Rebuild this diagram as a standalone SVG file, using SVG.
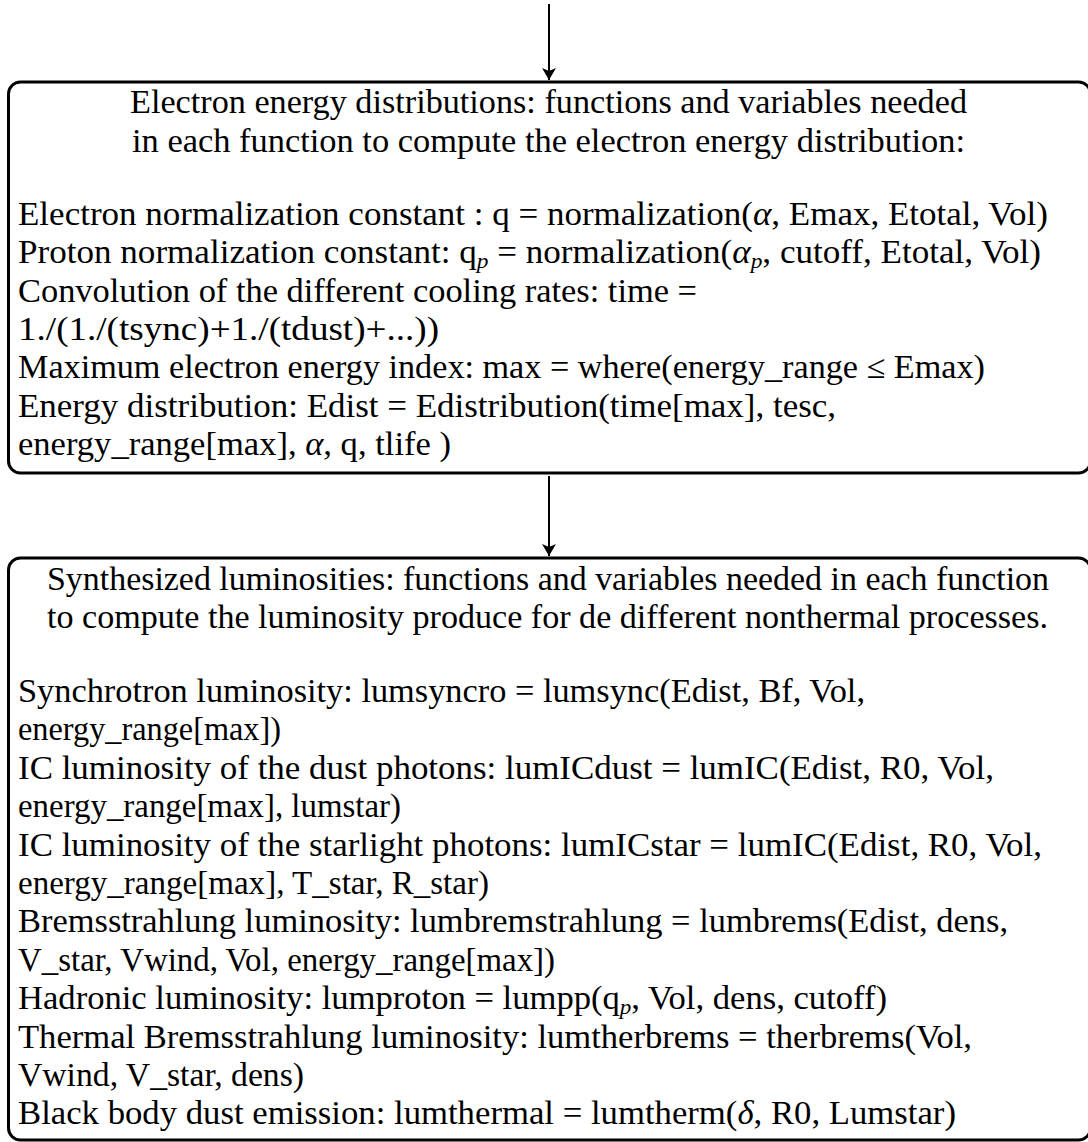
<svg xmlns="http://www.w3.org/2000/svg" width="1088" height="1142" viewBox="0 0 1088 1142">
<style>
text{font-family:"Liberation Serif","Times New Roman",serif;font-size:33px;fill:#000}
.box{fill:#fff;stroke:#000;stroke-width:3}
.conn{stroke:#000;stroke-width:2;fill:none}
.i{font-style:italic}
.sub{font-size:22px;font-style:italic}
</style>
<defs>
<marker id="ah" viewBox="0 0 12 14" refX="12" refY="7" markerWidth="12" markerHeight="14" markerUnits="userSpaceOnUse" orient="auto">
<path d="M0,0 L12,7 L0,14 L3,7 z" fill="#000"/>
</marker>
</defs>
<rect width="1088" height="1142" fill="#fff"/>
<g id="connectors">
<line class="conn" x1="549" y1="4" x2="549" y2="80" marker-end="url(#ah)"/>
<line class="conn" x1="549" y1="476" x2="549" y2="556" marker-end="url(#ah)"/>
</g>
<g id="electron-energy">
<rect class="box" x="8.5" y="82" width="1082" height="391" rx="12"/>
<text x="130" y="113" textLength="837" lengthAdjust="spacingAndGlyphs">Electron energy distributions: functions and variables needed</text>
<text x="132" y="152" textLength="833" lengthAdjust="spacingAndGlyphs">in each function to compute the electron energy distribution:</text>
<text x="18" y="225" textLength="1030" lengthAdjust="spacingAndGlyphs">Electron normalization constant : q = normalization(<tspan class="i">α</tspan>, Emax, Etotal, Vol)</text>
<text x="18" y="263" textLength="1023" lengthAdjust="spacingAndGlyphs">Proton normalization constant: q<tspan class="sub" dy="5">p</tspan><tspan dy="-5"> = normalization(</tspan><tspan class="i">α</tspan><tspan class="sub" dy="5">p</tspan><tspan dy="-5">, cutoff, Etotal, Vol)</tspan></text>
<text x="18" y="302" textLength="679" lengthAdjust="spacingAndGlyphs">Convolution of the different cooling rates: time =</text>
<text x="18" y="340" textLength="421" lengthAdjust="spacingAndGlyphs">1./(1./(tsync)+1./(tdust)+...))</text>
<text x="18" y="378" textLength="967" lengthAdjust="spacingAndGlyphs">Maximum electron energy index: max = where(energy_range ≤ Emax)</text>
<text x="18" y="417" textLength="818" lengthAdjust="spacingAndGlyphs">Energy distribution: Edist = Edistribution(time[max], tesc,</text>
<text x="18" y="455" textLength="433" lengthAdjust="spacingAndGlyphs">energy_range[max], <tspan class="i">α</tspan>, q, tlife )</text>
</g>
<g id="luminosities">
<rect class="box" x="8.5" y="558" width="1082" height="582" rx="12"/>
<text x="47" y="590" textLength="1002" lengthAdjust="spacingAndGlyphs">Synthesized luminosities: functions and variables needed in each function</text>
<text x="47" y="628" textLength="1001" lengthAdjust="spacingAndGlyphs">to compute the luminosity produce for de different nonthermal processes.</text>
<text x="18" y="702" textLength="847" lengthAdjust="spacingAndGlyphs">Synchrotron luminosity: lumsyncro = lumsync(Edist, Bf, Vol,</text>
<text x="18" y="740.4" textLength="263" lengthAdjust="spacingAndGlyphs">energy_range[max])</text>
<text x="18" y="778.8" textLength="976" lengthAdjust="spacingAndGlyphs">IC luminosity of the dust photons: lumICdust = lumIC(Edist, R0, Vol,</text>
<text x="18" y="817.2" textLength="383" lengthAdjust="spacingAndGlyphs">energy_range[max], lumstar)</text>
<text x="18" y="855.6" textLength="1024" lengthAdjust="spacingAndGlyphs">IC luminosity of the starlight photons: lumICstar = lumIC(Edist, R0, Vol,</text>
<text x="18" y="894" textLength="471" lengthAdjust="spacingAndGlyphs">energy_range[max], T_star, R_star)</text>
<text x="18" y="932.4" textLength="990" lengthAdjust="spacingAndGlyphs">Bremsstrahlung luminosity: lumbremstrahlung = lumbrems(Edist, dens,</text>
<text x="18" y="970.8" textLength="537" lengthAdjust="spacingAndGlyphs">V_star, Vwind, Vol, energy_range[max])</text>
<text x="18" y="1009.2" textLength="869" lengthAdjust="spacingAndGlyphs">Hadronic luminosity: lumproton = lumpp(q<tspan class="sub" dy="5">p</tspan><tspan dy="-5">, Vol, dens, cutoff)</tspan></text>
<text x="18" y="1047.6" textLength="954" lengthAdjust="spacingAndGlyphs">Thermal Bremsstrahlung luminosity: lumtherbrems = therbrems(Vol,</text>
<text x="18" y="1086" textLength="286" lengthAdjust="spacingAndGlyphs">Vwind, V_star, dens)</text>
<text x="18" y="1124.4" textLength="938" lengthAdjust="spacingAndGlyphs">Black body dust emission: lumthermal = lumtherm(<tspan class="i">δ</tspan>, R0, Lumstar)</text>
</g>
</svg>
